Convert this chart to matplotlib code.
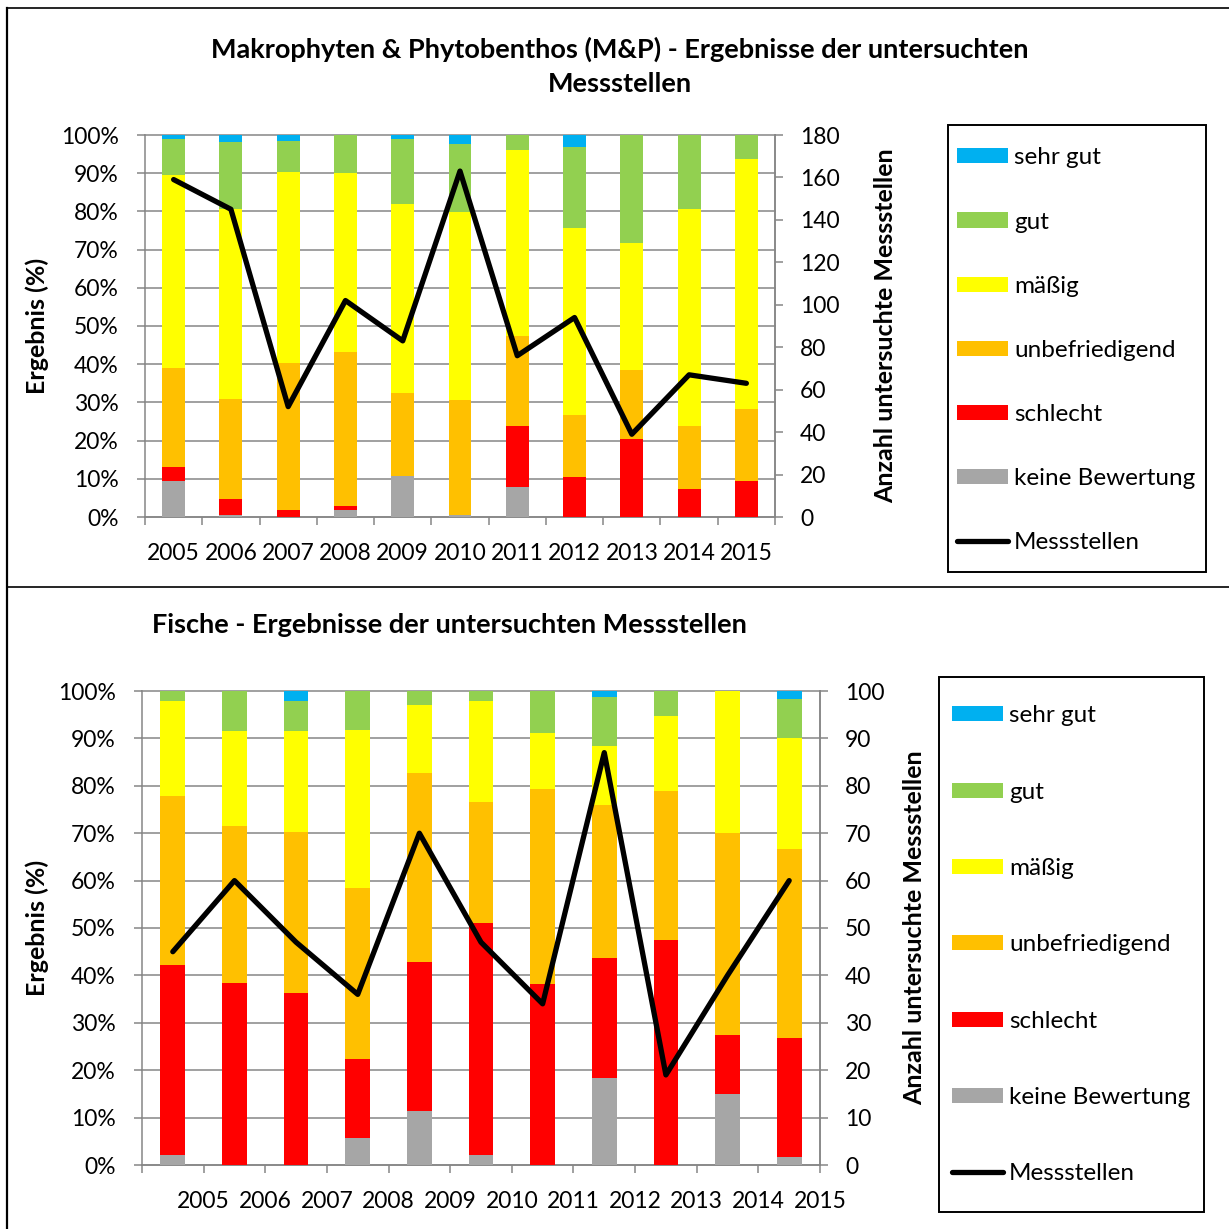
import numpy as np
import matplotlib
matplotlib.use("Agg")
import matplotlib.pyplot as plt
from matplotlib.patches import Patch, Rectangle
from matplotlib.lines import Line2D
from matplotlib.ticker import MultipleLocator, FixedLocator, FuncFormatter

plt.rcParams['font.family'] = ['Lato', 'DejaVu Sans']

years = ['2005', '2006', '2007', '2008', '2009', '2010',
         '2011', '2012', '2013', '2014', '2015']

# Rating classes, listed from the bottom of each stack to the top
classes = ['keine Bewertung', 'schlecht', 'unbefriedigend', 'mäßig', 'gut', 'sehr gut']
class_colors = ['#A6A6A6', '#FF0000', '#FFC000', '#FFFF00', '#92D050', '#00B0F0']

# Makrophyten & Phytobenthos: share of sites per rating class (%)
mp_keine = [9.5, 0.5, 0.0, 1.9, 10.7, 0.5, 7.9, 0.0, 0.0, 0.0, 0.0]
mp_schlecht = [3.7, 4.2, 1.9, 0.9, 0.0, 0.0, 15.8, 10.6, 20.5, 7.4, 9.5]
mp_unbefriedigend = [25.7, 26.3, 38.5, 40.3, 21.8, 30.2, 23.6, 16.0, 17.9, 16.3, 18.9]
mp_maessig = [50.6, 49.6, 50.0, 47.0, 49.5, 49.1, 48.8, 49.0, 33.4, 56.9, 65.3]
mp_gut = [9.5, 17.5, 7.9, 9.9, 17.0, 17.8, 3.9, 21.3, 28.2, 19.4, 6.3]
mp_sehr_gut = [1.0, 1.9, 1.7, 0.0, 1.0, 2.4, 0.0, 3.1, 0.0, 0.0, 0.0]
mp_messstellen = [159, 145, 52, 102, 83, 163, 76, 94, 39, 67, 63]

# Fische: share of sites per rating class (%)
fi_keine = [2.2, 0.0, 0.0, 5.6, 11.4, 2.1, 0.0, 18.4, 0.0, 15.0, 1.7]
fi_schlecht = [40.0, 38.3, 36.2, 16.7, 31.4, 48.9, 38.2, 25.3, 47.4, 12.5, 25.0]
fi_unbefriedigend = [35.6, 33.3, 34.0, 36.1, 40.0, 25.5, 41.2, 32.2, 31.6, 42.5, 40.0]
fi_maessig = [20.0, 20.0, 21.3, 33.3, 14.3, 21.3, 11.8, 12.6, 15.8, 30.0, 23.3]
fi_gut = [2.2, 8.3, 6.4, 8.3, 2.9, 2.1, 8.8, 10.3, 5.3, 0.0, 8.3]
fi_sehr_gut = [0.0, 0.0, 2.1, 0.0, 0.0, 0.0, 0.0, 1.1, 0.0, 0.0, 1.7]
fi_messstellen = [45, 60, 47, 36, 70, 47, 34, 87, 19, 40, 60]

W, H = 1229, 1229
GRID = '#868686'
FS_TICK = 16.5
FS_LEGEND = 17.5
FS_LABEL = 18
FS_TITLE = 19.5

fig = plt.figure(figsize=(W / 100, H / 100), dpi=100)


def fx(px):
    return px / W


def fy(py):
    return 1 - py / H


def draw_panel(rect, shares, counts, count_max, count_step, shifted_labels,
               xlab_pad, ylab_x, y2lab_x):
    ax = fig.add_axes(rect)
    x = np.arange(len(years))
    bottom = np.zeros(len(years))
    for vals, col, name in zip(shares, class_colors, classes):
        vals = np.asarray(vals, dtype=float)
        ax.bar(x, vals, bottom=bottom, width=0.4, color=col,
               edgecolor='none', zorder=3, label=name)
        bottom += vals

    ax.set_xlim(-0.5, len(years) - 0.5)
    ax.set_ylim(0, 100)
    ax.yaxis.set_major_locator(MultipleLocator(10))
    ax.yaxis.set_major_formatter(FuncFormatter(lambda v, p: f'{v:.0f}%'))
    ax.grid(axis='y', color=GRID, lw=1.1, zorder=0, clip_on=False)
    ax.set_axisbelow(True)
    ax.spines['top'].set_visible(False)
    for s in ['left', 'bottom', 'right']:
        ax.spines[s].set_color(GRID)
        ax.spines[s].set_linewidth(1.1)
    ax.tick_params(axis='y', direction='out', length=6, width=1.1, color=GRID,
                   labelsize=FS_TICK, pad=13)

    boundaries = np.arange(-0.5, len(years), 1.0)
    if shifted_labels:
        ax.xaxis.set_major_locator(FixedLocator(boundaries))
        ax.set_xticklabels([''] + years)
        ax.tick_params(axis='x', direction='out', length=6, width=1.1,
                       color=GRID, labelsize=FS_TICK, pad=xlab_pad)
    else:
        ax.set_xticks(x)
        ax.set_xticklabels(years)
        ax.xaxis.set_minor_locator(FixedLocator(boundaries))
        ax.tick_params(axis='x', which='major', length=0,
                       labelsize=FS_TICK, pad=xlab_pad)
        ax.tick_params(axis='x', which='minor', direction='out', length=6,
                       width=1.1, color=GRID)

    ax.set_ylabel('Ergebnis (%)', fontsize=FS_LABEL, fontweight='bold')
    ax.yaxis.set_label_coords(ylab_x, 0.5)

    ax2 = ax.twinx()
    ax2.plot(x, counts, color='black', lw=3.8, solid_joinstyle='round',
             solid_capstyle='round', zorder=5, label='Messstellen')
    ax2.set_ylim(0, count_max)
    ax2.yaxis.set_major_locator(MultipleLocator(count_step))
    for s in ['top', 'left', 'bottom']:
        ax2.spines[s].set_visible(False)
    ax2.spines['right'].set_color(GRID)
    ax2.spines['right'].set_linewidth(1.1)
    ax2.tick_params(axis='y', direction='out', length=6, width=1.1, color=GRID,
                    labelsize=FS_TICK, pad=12)
    ax2.set_ylabel('Anzahl untersuchte Messstellen', fontsize=FS_LABEL,
                   fontweight='bold')
    ax2.yaxis.set_label_coords(y2lab_x, 0.5)
    return ax, ax2


def add_legend(box_px, first_px, spacing):
    """Legend entries anchored at first_px, framed by a box (x0, y0, x1, y1)."""
    x0, y0, x1, y1 = box_px
    fig.add_artist(Rectangle((fx(x0), fy(y1)), fx(x1 - x0), (y1 - y0) / H,
                             transform=fig.transFigure, facecolor='white',
                             edgecolor='black', lw=1.4, zorder=4))
    handles = [Patch(facecolor=c, edgecolor='none') for c in class_colors[::-1]]
    handles.append(Line2D([0], [0], color='black', lw=3.8, solid_capstyle='round'))
    labels = classes[::-1] + ['Messstellen']
    leg = fig.legend(handles, labels, loc='upper left',
                     bbox_to_anchor=(fx(first_px[0]), fy(first_px[1])),
                     bbox_transform=fig.transFigure, borderaxespad=0,
                     fontsize=FS_LEGEND, frameon=False, handlelength=2.1,
                     handleheight=0.58, handletextpad=0.25,
                     labelspacing=spacing, borderpad=0)
    leg.set_zorder(5)
    return leg


# Makrophyten & Phytobenthos panel
mp_rect = [fx(145), fy(517), fx(775 - 145), (517 - 135) / H]
draw_panel(mp_rect,
           [mp_keine, mp_schlecht, mp_unbefriedigend, mp_maessig, mp_gut, mp_sehr_gut],
           mp_messstellen, 180, 20, False, 19, -0.152, 1.157)
fig.text(fx(620), fy(66.5),
         'Makrophyten & Phytobenthos (M&P) - Ergebnisse der untersuchten\nMessstellen',
         ha='center', va='center', fontsize=FS_TITLE, fontweight='bold',
         linespacing=1.48)
add_legend((948, 125, 1206, 572), (957, 147.5), 1.774)

# Fische panel
fi_rect = [fx(142), fy(1165), fx(820 - 142), (1165 - 691) / H]
draw_panel(fi_rect,
           [fi_keine, fi_schlecht, fi_unbefriedigend, fi_maessig, fi_gut, fi_sehr_gut],
           fi_messstellen, 100, 10, True, 13, -0.137, 1.1224)
fig.text(fx(449), fy(625), 'Fische - Ergebnisse der untersuchten Messstellen',
         ha='center', va='center', fontsize=FS_TITLE, fontweight='bold')
add_legend((939, 677, 1204, 1212), (952, 705.5), 2.276)

# Outer frame lines of the two panels
fig.add_artist(Line2D([fx(7), fx(7)], [0, fy(8)], transform=fig.transFigure,
                      color='black', lw=1.6))
fig.add_artist(Line2D([fx(7), 1], [fy(8), fy(8)], transform=fig.transFigure,
                      color='black', lw=1.2))
fig.add_artist(Line2D([fx(7), 1], [fy(587), fy(587)], transform=fig.transFigure,
                      color='black', lw=1.2))

fig.savefig('out.png', dpi=100, facecolor='white')
